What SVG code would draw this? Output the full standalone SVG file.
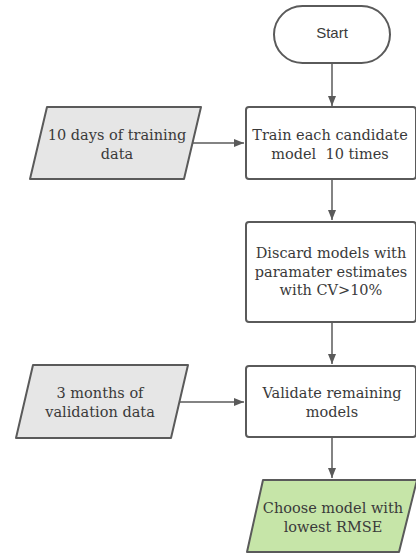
<svg xmlns="http://www.w3.org/2000/svg" width="416" height="555" viewBox="0 0 416 555">
  <defs>
    <marker id="arr" viewBox="0 0 10 10" refX="10" refY="5" markerWidth="10" markerHeight="10" markerUnits="userSpaceOnUse" orient="auto">
      <path d="M0,1 L10,5 L0,9 Z" fill="#5a5a5a"/>
    </marker>
    <style>
      .shape { stroke: #5a5a5a; stroke-width: 2; stroke-linejoin: round; }
      .proc { fill: #ffffff; }
      .data { fill: #e6e6e6; }
      .out { fill: #c6e5a8; }
      .t { font-family: "DejaVu Serif", "Liberation Serif", serif; font-size: 14.5px; fill: #3a3a3a; text-anchor: middle; }
      .s { font-family: "Liberation Sans", Arial, sans-serif; font-size: 15px; fill: #3a3a3a; text-anchor: middle; }
      .c { stroke: #5a5a5a; stroke-width: 1.5; fill: none; marker-end: url(#arr); }
    </style>
  </defs>
  <rect width="416" height="555" fill="#ffffff"/>

  <g id="connectors">
    <line class="c" x1="332" y1="63" x2="332" y2="106"/>
    <line class="c" x1="192" y1="143" x2="244" y2="143"/>
    <line class="c" x1="332" y1="179" x2="332" y2="220"/>
    <line class="c" x1="332" y1="322" x2="332" y2="364"/>
    <line class="c" x1="180" y1="402" x2="244" y2="402"/>
    <line class="c" x1="332" y1="437" x2="332" y2="478"/>
  </g>

  <g id="start">
    <rect class="shape proc" x="274" y="6" width="116" height="57" rx="28.5" ry="28.5"/>
    <text class="s" x="332" y="38">Start</text>
  </g>

  <g id="train-data">
    <path class="shape data" d="M47,107 L201,107 L184,179 L30,179 Z"/>
    <text class="t" x="117" y="140">10 days of training</text>
    <text class="t" x="117" y="159">data</text>
  </g>

  <g id="train">
    <rect class="shape proc" x="246" y="107" width="170" height="72" rx="3"/>
    <text class="t" x="330" y="140">Train each candidate</text>
    <text class="t" x="330" y="159" xml:space="preserve">model  10 times</text>
  </g>

  <g id="discard">
    <rect class="shape proc" x="246" y="222" width="170" height="100" rx="3"/>
    <text class="t" x="331" y="258">Discard models with</text>
    <text class="t" x="331" y="276.5">paramater estimates</text>
    <text class="t" x="331" y="295">with CV&gt;10%</text>
  </g>

  <g id="validation-data">
    <path class="shape data" d="M33,365 L188,365 L171,438 L16,438 Z"/>
    <text class="t" x="100" y="398">3 months of</text>
    <text class="t" x="100" y="417">validation data</text>
  </g>

  <g id="validate">
    <rect class="shape proc" x="246" y="366" width="170" height="71" rx="3"/>
    <text class="t" x="332" y="398">Validate remaining</text>
    <text class="t" x="332" y="417">models</text>
  </g>

  <g id="choose">
    <path class="shape out" d="M263,480 L417,480 L399,552 L247,552 Z"/>
    <text class="t" x="333" y="513">Choose model with</text>
    <text class="t" x="333" y="532">lowest RMSE</text>
  </g>
</svg>
